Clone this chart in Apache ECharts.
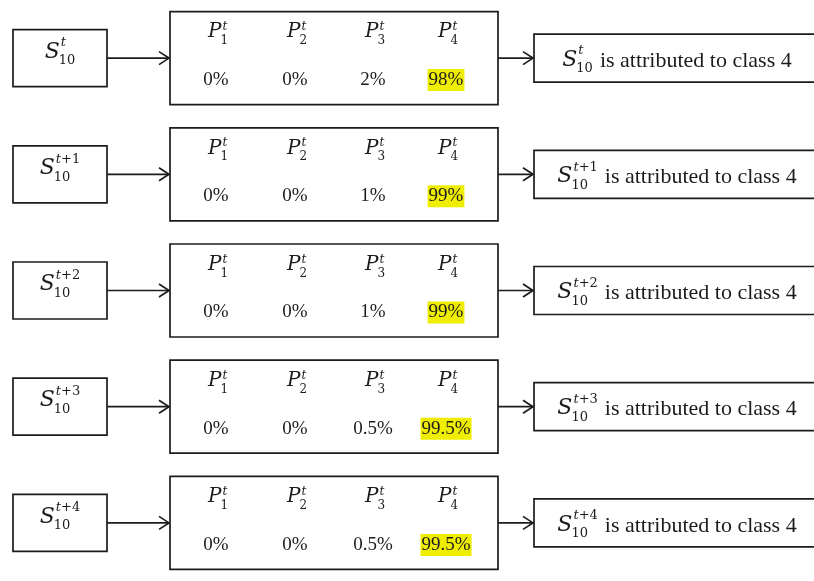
<!DOCTYPE html>
<html>
<head>
<meta charset="utf-8">
<script src="https://cdn.jsdelivr.net/npm/echarts@6/dist/echarts.min.js"></script>
<style>html,body{margin:0;padding:0;background:#fff}#chart{width:814px;height:581px}</style>
</head>
<body>
<div id="chart"></div>
<script>
// ---- data ----
const timeSteps = ['t', 't+1', 't+2', 't+3', 't+4'];   // superscripts of S_10
const sampleId = '10';                                   // subscript of S
const classIds = ['1', '2', '3', '4'];                   // P_k^t headers
const p1 = [0, 0, 0, 0, 0];
const p2 = [0, 0, 0, 0, 0];
const p3 = [2, 1, 1, 0.5, 0.5];
const p4 = [98, 99, 99, 99.5, 99.5];
const assignedClass = [4, 4, 4, 4, 4];

// ---- layout / style ----
const INK = '#1c1c1c';
const LW = 1.7;
const HIGHLIGHT = '#f0ee00';
const SERIF = '"Liberation Serif", "Times New Roman", serif';
const MATH = '"DejaVu Serif", serif';
const colX = [216, 295, 373, 446];

const mctx = document.createElement('canvas').getContext('2d');
function tw(text, font) { mctx.font = font; return mctx.measureText(text).width; }
function fontStr(size, italic, fam) { return (italic ? 'italic ' : '') + size + 'px ' + (fam || SERIF); }

function txt(x, y, text, font, align, extra) {
  return {
    type: 'text',
    style: Object.assign({
      x: x, y: y, text: text, font: font,
      fill: INK, align: align || 'left', verticalAlign: 'middle'
    }, extra || {})
  };
}

// script piece: italic letters, upright digits/symbols
function splitScript(s) {
  const m = s.match(/^([a-z]*)(.*)$/);
  return [{ t: m[1], it: true }, { t: m[2], it: false }].filter(p => p.t);
}
function partsWidth(parts, size) {
  return parts.reduce((w, p) => w + tw(p.t, fontStr(size, p.it, MATH)), 0);
}
function drawParts(els, parts, x, y, size) {
  parts.forEach(p => { const f = fontStr(size, p.it, MATH); els.push(txt(x, y, p.t, f)); x += tw(p.t, f); });
}
// base symbol with super/subscript; returns width; x = left
function mathSym(els, x, y, base, sup, sub, bs, ss, supDy, subDy, draw) {
  const fb = fontStr(bs, true, MATH);
  const wb = tw(base, fb);
  const supParts = splitScript(sup), subParts = splitScript(sub);
  const wsup = partsWidth(supParts, ss) + 1;
  const wsub = partsWidth(subParts, ss) - 1;
  if (draw) {
    els.push(txt(x, y, base, fb));
    drawParts(els, supParts, x + wb + 1, y + supDy, ss);
    drawParts(els, subParts, x + wb - 1, y + subDy, ss);
  }
  return wb + Math.max(wsup, wsub);
}

function arrow(els, x1, x2, y) {
  els.push({ type: 'line', shape: { x1: x1, y1: y, x2: x2 - 1, y2: y }, style: { stroke: INK, lineWidth: LW } });
  els.push({ type: 'polyline', shape: { points: [[x2 - 11, y - 6.5], [x2 - 1, y], [x2 - 11, y + 6.5]] },
    style: { stroke: INK, lineWidth: LW, fill: null } });
}
function box(els, x, y, w, h) {
  els.push({ type: 'rect', shape: { x: x, y: y, width: w, height: h }, style: { fill: '#fff', stroke: INK, lineWidth: LW } });
}

function renderItem(params, api) {
  const i = api.value(1);
  const cy = api.coord([0, i])[1];
  const X = v => api.coord([v, i])[0];
  const els = [];

  // boxes and arrows
  box(els, X(13), cy - 28.5, X(107) - X(13), 57);
  arrow(els, X(107), X(170), cy);
  box(els, X(170), cy - 46.5, X(498) - X(170), 93);
  arrow(els, X(498), X(534), cy);
  box(els, X(534), cy - 24, 400, 48);

  // left: S_10^{t+k}
  const sArgs = ['S', timeSteps[i], sampleId, 22, 13, -9, 9];
  const wS = mathSym(els, 0, 0, ...sArgs, false);
  mathSym(els, X(60) - wS / 2, cy - 6, ...sArgs, true);

  // header P_k^t
  classIds.forEach((c, k) => {
    const pArgs = ['P', 't', c, 20, 12, -5, 9];
    const wP = mathSym(els, 0, 0, ...pArgs, false);
    mathSym(els, X(colX[k] + 2) - wP / 2, cy - 26, ...pArgs, true);
  });

  // probabilities
  const vals = [p1[i], p2[i], p3[i], p4[i]];
  const maxV = Math.max.apply(null, vals);
  vals.forEach((v, k) => {
    const extra = v === maxV ? { backgroundColor: HIGHLIGHT, padding: [2, 1, 1, 1] } : {};
    els.push(txt(X(colX[k]), cy + 22, v + '%', fontStr(19, false), 'center', extra));
  });

  // right: S_10^{t+k} is attributed to class c
  const rest = 'is attributed to class ' + assignedClass[i];
  const rf = fontStr(22, false);
  const restW = tw(rest, rf);
  const wS2 = mathSym(els, 0, 0, ...sArgs, false);
  const gap = 7;
  const left = X(677) - (wS2 + gap + restW) / 2;
  mathSym(els, left, cy + 2, ...sArgs, true);
  els.push(txt(left + wS2 + gap, cy + 3, rest, rf, 'left'));

  return { type: 'group', children: els };
}

const chart = echarts.init(document.getElementById('chart'), null, { renderer: 'canvas' });
chart.setOption({
  backgroundColor: '#fff',
  animation: false,
  grid: { left: 0, right: 0, top: -10, bottom: -9 },
  xAxis: { type: 'value', min: 0, max: 814, show: false },
  yAxis: { type: 'category', data: timeSteps, inverse: true, show: false },
  series: [{
    type: 'custom',
    renderItem: renderItem,
    clip: false,
    encode: { x: 0, y: 1 },
    data: timeSteps.map((s, i) => [0, i])
  }]
});
</script>
</body>
</html>
